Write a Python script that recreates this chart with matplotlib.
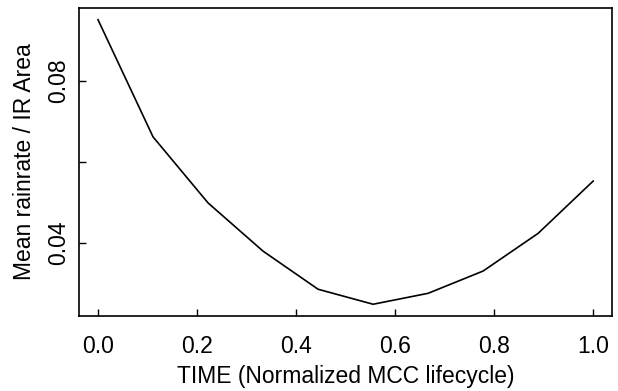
import numpy as np
import matplotlib
matplotlib.use("Agg")
import matplotlib.pyplot as plt

# normalized MCC lifecycle time and mean rainrate per IR area
time = np.linspace(0.0, 1.0, 10)
rain_per_area = [0.0951, 0.0662, 0.0499, 0.0380, 0.0286, 0.0249, 0.0276, 0.0331, 0.0424, 0.0553]

x_ticks = [0.0, 0.2, 0.4, 0.6, 0.8, 1.0]
y_ticks = [0.04, 0.06, 0.08]
y_tick_labels = ["0.04", "", "0.08"]

plt.rcParams['font.family'] = ['Liberation Sans', 'DejaVu Sans']

fig = plt.figure(figsize=(6.18, 3.91), dpi=100)
ax = fig.add_axes([79 / 618, 1 - 316 / 391, (612 - 79) / 618, (316 - 8) / 391])

ax.plot(time, rain_per_area, color='black', linewidth=1.2)

ax.set_xlim(-0.0384, 1.038)
ax.set_ylim(0.022, 0.098)
ax.set_xticks(x_ticks)
ax.set_xticklabels([f"{v:.1f}" for v in x_ticks])
ax.set_yticks(y_ticks)
ax.set_yticklabels(y_tick_labels, rotation=90, va='center')

ax.tick_params(direction='in', length=5, width=1, labelsize=16.5)
ax.tick_params(axis='x', pad=14)
ax.tick_params(axis='y', pad=6.7)
for s in ax.spines.values():
    s.set_linewidth(1.2)

ax.set_xlabel("TIME (Normalized MCC lifecycle)", fontsize=16.5, labelpad=5)
ax.set_ylabel("Mean rainrate / IR Area", fontsize=16.5, labelpad=7.4)

fig.savefig("out.png", dpi=100)
